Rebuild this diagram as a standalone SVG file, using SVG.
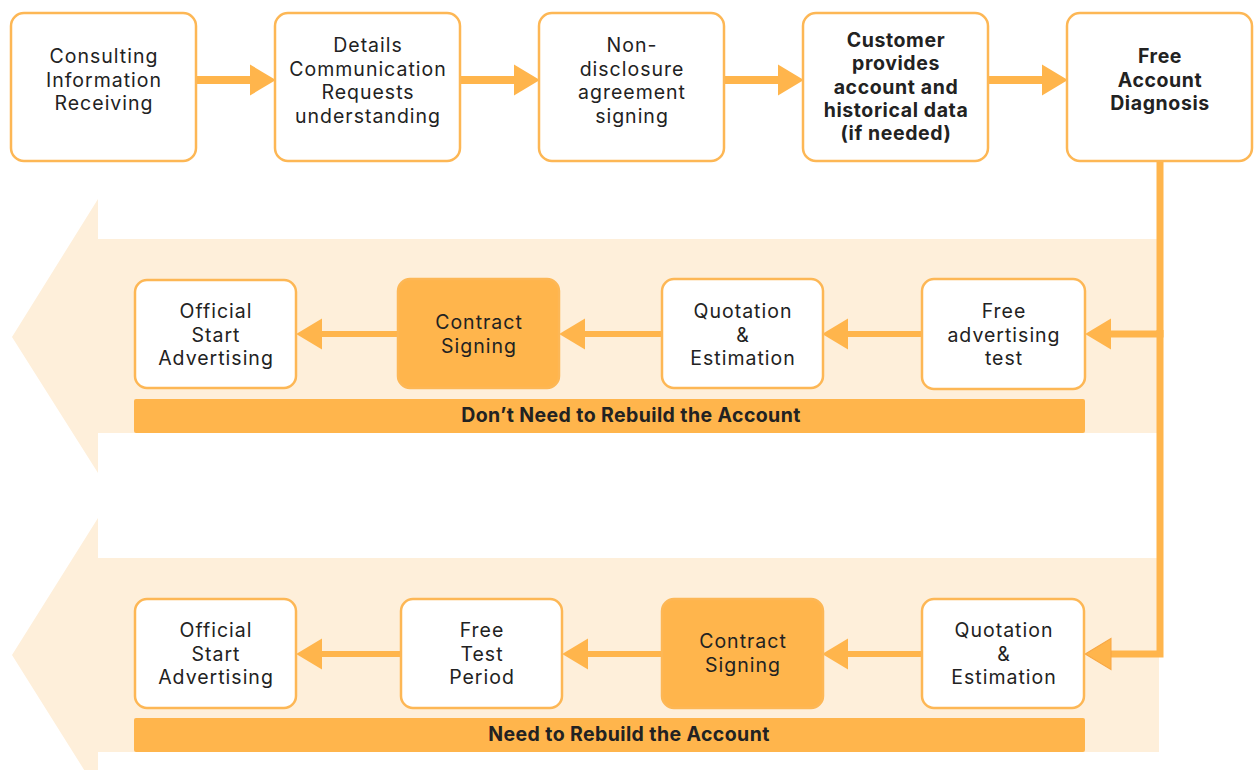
<svg xmlns="http://www.w3.org/2000/svg" width="1260" height="770" viewBox="0 0 1260 770">
<defs>
<style>
.box{fill:#fff;stroke:#FDB755;stroke-width:2.5}
.fbox{fill:#FFB54C;stroke:#FDB755;stroke-width:2.5}
.band{fill:#FEEFDA}
.bar{fill:#FFB54C}
.t{font-family:Inter,"Open Sans",sans-serif;font-size:19.5px;fill:#222;text-anchor:middle;letter-spacing:1px}
.b{font-weight:700;letter-spacing:0.6px}
.lb{font-family:Inter,"Open Sans",sans-serif;font-size:19.5px;font-weight:700;fill:#222;text-anchor:middle;letter-spacing:0.4px}
.c{fill:none;stroke:#FFB54C}
.c8{stroke-width:8}
.c6{stroke-width:6}
.c7{stroke-width:7}
</style>
<marker id="ah" markerUnits="userSpaceOnUse" markerWidth="26" markerHeight="31" viewBox="0 0 25 30" refX="0" refY="15" orient="auto" overflow="visible">
<path d="M0 0 L25 15 L0 30 Z" fill="#FFB54C"/>
</marker>
<marker id="ah2" markerUnits="userSpaceOnUse" markerWidth="26" markerHeight="31" viewBox="0 0 25 30" refX="0" refY="15" orient="auto" overflow="visible">
<path d="M0 0 L25 15 L0 30 Z" fill="#FFB54C" stroke="#F7A745" stroke-width="1"/>
</marker>
</defs>
<rect width="1260" height="770" fill="#fff"/>
<g id="bands">
<path class="band" d="M98 239 H1157 V433 H98 V473 L12 337 L98 199 Z"/>
<path class="band" d="M98 558 H1159 V752 H98 V792 L12 655 L98 518 Z"/>
<rect class="bar" x="134" y="399" width="951" height="34" rx="2"/>
<rect class="bar" x="134" y="718" width="951" height="34" rx="2"/>
<text class="lb" x="631" y="422">Don’t Need to Rebuild the Account</text>
<text class="lb" x="629" y="741">Need to Rebuild the Account</text>
</g>
<g id="connectors">
<path class="c c8" d="M196 80 H250" marker-end="url(#ah)"/>
<path class="c c8" d="M460 80 H514" marker-end="url(#ah)"/>
<path class="c c8" d="M724 80 H778" marker-end="url(#ah)"/>
<path class="c c8" d="M988 80 H1042" marker-end="url(#ah)"/>
<path class="c c7" d="M1160 161 V334 H1111" marker-end="url(#ah)"/>
<path class="c c7" d="M1160 330 V654 H1111" marker-end="url(#ah2)"/>
<path class="c c6" d="M922 334 H848" marker-end="url(#ah)"/>
<path class="c c6" d="M662 334 H585" marker-end="url(#ah)"/>
<path class="c c6" d="M398 334 H322" marker-end="url(#ah)"/>
<path class="c c6" d="M922 654 H848" marker-end="url(#ah)"/>
<path class="c c6" d="M662 654 H588" marker-end="url(#ah)"/>
<path class="c c6" d="M401 654 H322" marker-end="url(#ah)"/>
</g>
<g id="n1"><rect class="box" x="11" y="13" width="185" height="148" rx="13"/>
<text class="t" x="104" y="63">Consulting</text><text class="t" x="104" y="87">Information</text><text class="t" x="104" y="110">Receiving</text></g>
<g id="n2"><rect class="box" x="275" y="13" width="185" height="148" rx="13"/>
<text class="t" x="368" y="52">Details</text><text class="t" x="368" y="76">Communication</text><text class="t" x="368" y="99">Requests</text><text class="t" x="368" y="123">understanding</text></g>
<g id="n3"><rect class="box" x="539" y="13" width="185" height="148" rx="13"/>
<text class="t" x="632" y="52">Non-</text><text class="t" x="632" y="76">disclosure</text><text class="t" x="632" y="99">agreement</text><text class="t" x="632" y="123">signing</text></g>
<g id="n4"><rect class="box" x="803" y="13" width="185" height="148" rx="13"/>
<text class="t b" x="896" y="47">Customer</text><text class="t b" x="896" y="70">provides</text><text class="t b" x="896" y="94">account and</text><text class="t b" x="896" y="117">historical data</text><text class="t b" x="896" y="140">(if needed)</text></g>
<g id="n5"><rect class="box" x="1067" y="13" width="185" height="148" rx="13"/>
<text class="t b" x="1160" y="63">Free</text><text class="t b" x="1160" y="87">Account</text><text class="t b" x="1160" y="110">Diagnosis</text></g>
<g id="r1a"><rect class="box" x="135" y="280" width="161" height="108" rx="12"/>
<text class="t" x="216" y="318">Official</text><text class="t" x="216" y="342">Start</text><text class="t" x="216" y="365">Advertising</text></g>
<g id="r1b"><rect class="fbox" x="398" y="279" width="161" height="109" rx="12"/>
<text class="t" x="479" y="329">Contract</text><text class="t" x="479" y="353">Signing</text></g>
<g id="r1c"><rect class="box" x="662" y="279" width="161" height="109" rx="12"/>
<text class="t" x="743" y="318">Quotation</text><text class="t" x="743" y="342">&amp;</text><text class="t" x="743" y="365">Estimation</text></g>
<g id="r1d"><rect class="box" x="922" y="279" width="163" height="110" rx="12"/>
<text class="t" x="1004" y="318">Free</text><text class="t" x="1004" y="342">advertising</text><text class="t" x="1004" y="365">test</text></g>
<g id="r2a"><rect class="box" x="135" y="599" width="161" height="109" rx="12"/>
<text class="t" x="216" y="637">Official</text><text class="t" x="216" y="661">Start</text><text class="t" x="216" y="684">Advertising</text></g>
<g id="r2b"><rect class="box" x="401" y="599" width="161" height="109" rx="12"/>
<text class="t" x="482" y="637">Free</text><text class="t" x="482" y="661">Test</text><text class="t" x="482" y="684">Period</text></g>
<g id="r2c"><rect class="fbox" x="662" y="599" width="161" height="109" rx="12"/>
<text class="t" x="743" y="648">Contract</text><text class="t" x="743" y="672">Signing</text></g>
<g id="r2d"><rect class="box" x="922" y="599" width="162" height="109" rx="12"/>
<text class="t" x="1004" y="637">Quotation</text><text class="t" x="1004" y="661">&amp;</text><text class="t" x="1004" y="684">Estimation</text></g>
</svg>
